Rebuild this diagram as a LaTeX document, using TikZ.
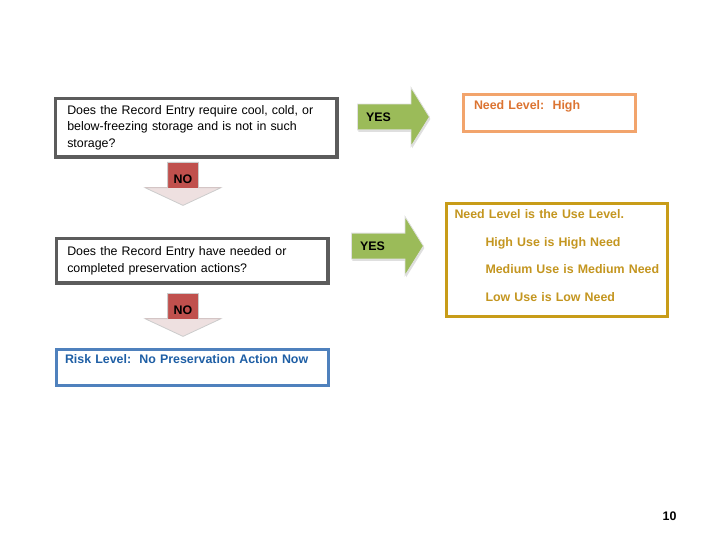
\documentclass[tikz,border=0pt]{standalone}
\usepackage{fontspec}
\setmainfont{Liberation Sans}
\usepackage{xcolor}
\usetikzlibrary{shapes.arrows,shadows}

\definecolor{qgray}{RGB}{92,92,92}
\definecolor{hiorange}{RGB}{242,164,108}
\definecolor{hitext}{RGB}{220,116,50}
\definecolor{usegold}{RGB}{200,156,24}
\definecolor{usetext}{RGB}{196,150,32}
\definecolor{riskblue}{RGB}{79,129,189}
\definecolor{risktext}{RGB}{31,95,165}
\definecolor{yesgreen}{RGB}{155,187,89}
\definecolor{nored}{RGB}{192,80,77}
\definecolor{nohead}{RGB}{238,224,224}

\begin{document}
\begin{tikzpicture}[
    x=1pt, y=-1pt,
    txt/.style={font=\fontsize{12.4}{16.5}\selectfont},
    qbox/.style={draw=qgray, line width=3.5pt, fill=white, anchor=north west, align=left, inner xsep=10pt, txt,
                 drop shadow={shadow xshift=1.5pt, shadow yshift=-1.5pt, opacity=.2}},
    resbox/.style={line width=3pt, fill=white, anchor=north west, align=left, inner xsep=11pt,
                   font=\fontsize{12.4}{16.5}\selectfont\bfseries},
    yesarrow/.style={single arrow, fill=yesgreen, draw=black!12, line width=.8pt, inner sep=12.5pt,
                     minimum height=72pt, single arrow head extend=16.5pt, single arrow tip angle=116, anchor=tail,
                     drop shadow={shadow xshift=1pt, shadow yshift=-2pt, opacity=.25}},
    noarrow/.style={single arrow, shape border rotate=270, fill=nohead, draw=black!20, line width=.8pt, inner sep=15pt,
                    minimum height=43pt, single arrow head extend=22.5pt, single arrow tip angle=130, anchor=tail,
                    path picture={\fill[nored] (path picture bounding box.north west) rectangle ([yshift=-26pt]path picture bounding box.north east);}},
    lbl/.style={font=\fontsize{12.4}{14}\selectfont\bfseries, inner sep=0pt}
]
\useasboundingbox (0,0) rectangle (720,540);

% questions
\node[qbox, minimum width=281.5pt, minimum height=58.5pt, text width=258pt] (q1) at (53.75,96.75)
    {Does the Record Entry require cool, cold, or\\below-freezing storage and is not in such\\storage?};
\node[qbox, minimum width=271.5pt, minimum height=44.5pt, text width=250pt] (q2) at (54.75,236.75)
    {Does the Record Entry have needed or\\completed preservation actions?};

% results
\node[resbox, draw=hiorange, text=hitext, minimum width=172pt, minimum height=37pt, text width=150pt] (high) at (461.5,93.5)
    {Need Level:~~High\\\mbox{}};
\node[resbox, draw=riskblue, text=risktext, minimum width=272pt, minimum height=36pt, text width=254pt, inner xsep=9pt] (risk) at (54.5,347.5)
    {Risk Level:~~No Preservation Action Now\\\mbox{}};
\node[resbox, draw=usegold, text=usetext, minimum width=221pt, minimum height=112pt, text width=213pt, inner xsep=4pt,
      font=\fontsize{12.4}{27.5}\selectfont\bfseries] (use) at (444.5,202.5)
    {\hspace*{4.5pt}Need Level is the Use Level.\\
     \hspace*{35.5pt}High Use is High Need\\
     \hspace*{35.5pt}Medium Use is Medium Need\\
     \hspace*{35.5pt}Low Use is Low Need\\[-19pt]\mbox{}};

% yes / no arrows
\node[yesarrow] (yes1) at (357,117) {};
\node[lbl, anchor=west] at ([xshift=9pt]yes1.tail) {YES};
\node[yesarrow] (yes2) at (351,246) {};
\node[lbl, anchor=west] at ([xshift=9pt]yes2.tail) {YES};

\node[noarrow] (no1) at (183,162) {};
\node[lbl] at ([yshift=-17pt]no1.tail) {NO};
\node[noarrow] (no2) at (183,293) {};
\node[lbl] at ([yshift=-17pt]no2.tail) {NO};

% page number
\node[lbl] (page) at (669.5,516) {10};
\end{tikzpicture}
\end{document}
